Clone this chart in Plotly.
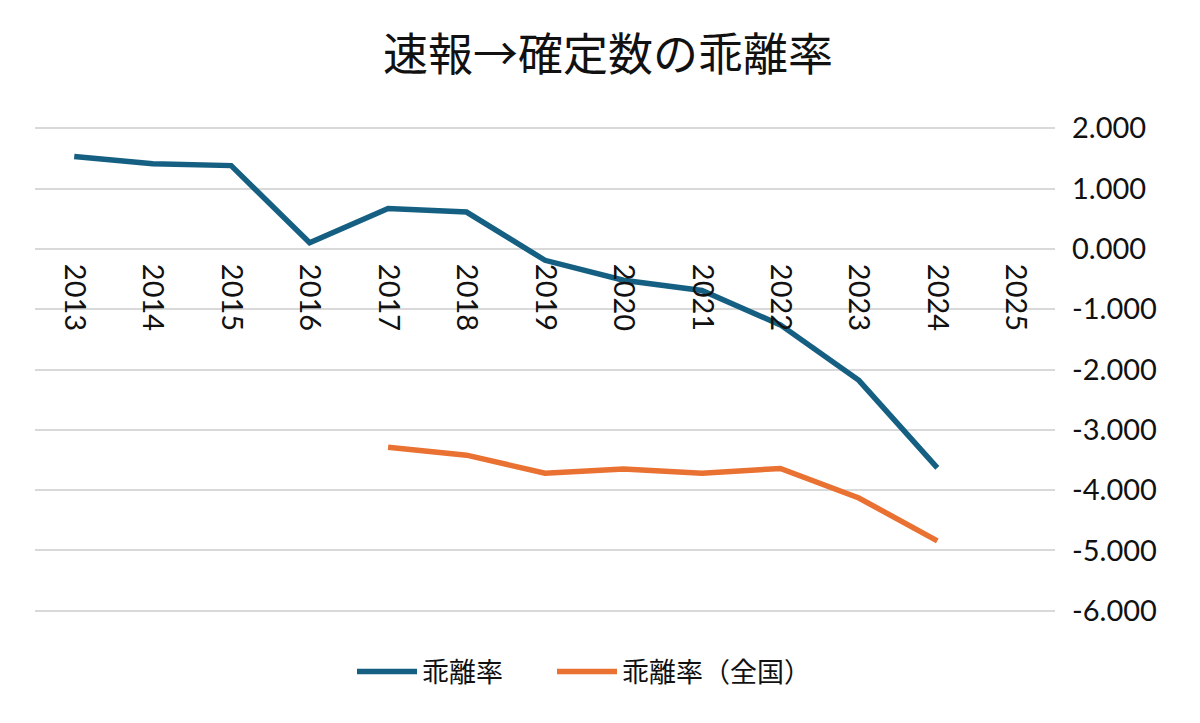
import plotly.graph_objects as go

# 速報→確定数の乖離率 (Excel-style line chart)
years = [str(y) for y in range(2013, 2026)]
divergence = [1.53, 1.41, 1.38, 0.10, 0.67, 0.61, -0.19, -0.52, -0.69, -1.26, -2.18, -3.63, None]
divergence_national = [None, None, None, None, -3.29, -3.42, -3.72, -3.65, -3.72, -3.64, -4.13, -4.84, None]
y_ticks = [2, 1, 0, -1, -2, -3, -4, -5, -6]
y_tick_labels = [f"{v:.3f}" for v in y_ticks]  # keep ASCII hyphen like Excel

_BLUE = "#156082"
_ORANGE = "#E97132"
_GRID = "#d9d9d9"
_FONT = "Lato, 'Noto Sans CJK JP', sans-serif"
_CJK = "'Noto Sans CJK JP'"

# small pad so the -6 gridline at the bottom edge is not clipped
Y_RANGE = [-6.02, 2.02]
# the page body adds an 8px offset, so margins are shifted to compensate
OFFSET = 8
PLOT_LEFT, PLOT_RIGHT = 35, 1055


def _legend_at(px: float) -> dict:
    """One-entry legend box whose left edge sits at page pixel ``px``."""
    return {
        "orientation": "h",
        "x": (px - PLOT_LEFT) / (PLOT_RIGHT - PLOT_LEFT),
        "xanchor": "left",
        "y": -60 / 485,
        "yanchor": "middle",
        "font": {"family": _CJK, "size": 27, "color": "#111"},
        "itemwidth": 60,
    }


fig = go.Figure()
fig.add_trace(
    go.Scatter(
        name="乖離率",
        x=years,
        y=divergence,
        mode="lines",
        line={"color": _BLUE, "width": 5.5},
        legend="legend",
    )
)
fig.add_trace(
    go.Scatter(
        name="乖離率（全国）",
        x=years,
        y=divergence_national,
        mode="lines",
        line={"color": _ORANGE, "width": 5.5},
        legend="legend2",
    )
)

fig.update_layout(
    width=1200,
    height=723,
    paper_bgcolor="white",
    plot_bgcolor="white",
    font={"family": _FONT, "color": "#111", "size": 29},
    title={
        "text": "速報→確定数の乖離率",
        "x": 0.5,
        "xanchor": "center",
        "y": 1 - (55 - OFFSET) / 723,
        "yanchor": "middle",
        "yref": "container",
        "font": {"family": _CJK, "size": 45, "color": "#111"},
    },
    margin={"l": PLOT_LEFT - OFFSET, "r": 1200 - PLOT_RIGHT + OFFSET, "t": 127 - OFFSET, "b": 111 + OFFSET},
    showlegend=True,
    legend=_legend_at(352),
    legend2=_legend_at(552),
    xaxis={
        "type": "category",
        "range": [-0.5, 12.5],
        "anchor": "free",
        "position": (0 - Y_RANGE[0]) / (Y_RANGE[1] - Y_RANGE[0]),  # crosses at 0
        "tickangle": 90,
        "ticklabelstandoff": 14,
        "showgrid": False,
        "showline": False,
        "ticks": "",
        "tickfont": {"size": 29},
    },
    yaxis={
        "range": Y_RANGE,
        "side": "right",
        "tickvals": y_ticks,
        "ticktext": y_tick_labels,
        "showgrid": True,
        "gridcolor": _GRID,
        "gridwidth": 2,
        "zeroline": False,
        "showline": False,
        "ticks": "",
        "ticklabelstandoff": 16,
        "tickfont": {"size": 29},
    },
)

fig.write_html("out.html")
